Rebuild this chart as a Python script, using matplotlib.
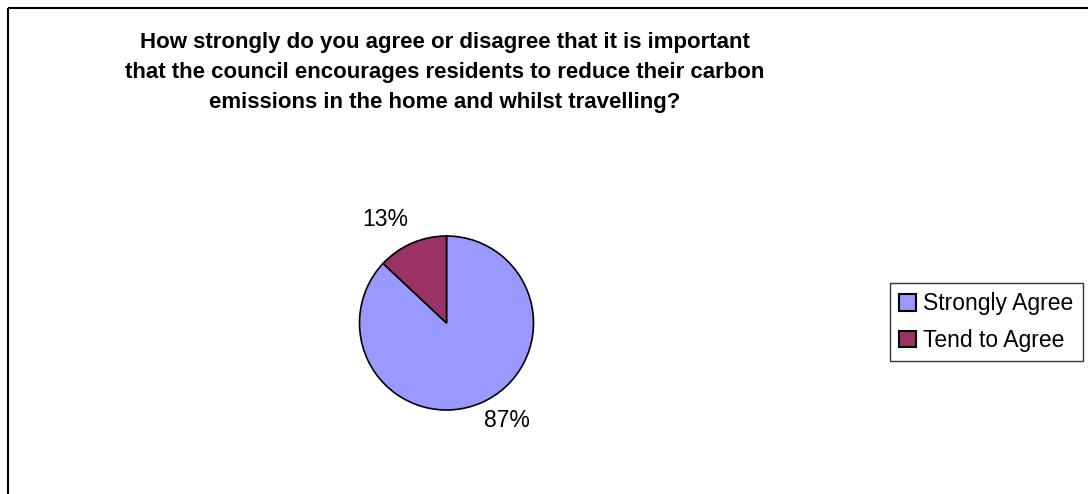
import matplotlib
matplotlib.use("Agg")
import matplotlib.pyplot as plt
from matplotlib.patches import Patch
from matplotlib.lines import Line2D

title = ("How strongly do you agree or disagree that it is important\n"
         "that the council encourages residents to reduce their carbon\n"
         "emissions in the home and whilst travelling?")
categories = ["Strongly Agree", "Tend to Agree"]
values = [87, 13]
colors = ["#9999FF", "#993366"]

plt.rcParams['font.family'] = ['Liberation Sans', 'DejaVu Sans']

W, H = 1088, 494
fig = plt.figure(figsize=(W / 100, H / 100), dpi=100)
fig.patch.set_facecolor("white")

# chart border (left and top visible)
fig.add_artist(Line2D([7.5 / W, 7.5 / W], [0, 1 - 8 / H], transform=fig.transFigure,
                      color="black", lw=1.5, solid_capstyle="butt"))
fig.add_artist(Line2D([7.5 / W, 1], [1 - 8 / H, 1 - 8 / H], transform=fig.transFigure,
                      color="black", lw=1.5, solid_capstyle="butt"))

fig.text(445 / W, 1 - 32 / H, title, ha="center", va="top", fontsize=16,
         fontweight="bold", linespacing=1.55)

cx, cy, r = 446.5, 323, 87
ax = fig.add_axes([(cx - r) / W, 1 - (cy + r) / H, 2 * r / W, 2 * r / H])
wedges, texts = ax.pie(values, colors=colors, startangle=90, counterclock=False,
                       wedgeprops=dict(edgecolor="black", linewidth=1.2))
ax.set_xlim(-1, 1)
ax.set_ylim(-1, 1)
ax.set_aspect("auto")
ax.axis("off")

# percentage labels
label_pos = [(507, 420), (385, 219)]
for (lx, ly), v in zip(label_pos, values):
    fig.text(lx / W, 1 - ly / H, f"{v}%", ha="center", va="center", fontsize=16.5)

handles = [Patch(facecolor=c, edgecolor="black", lw=1.5) for c in colors]
leg = fig.legend(handles, categories, loc="upper left",
                 bbox_to_anchor=(890 / W, 1 - 283 / H), fontsize=16.5,
                 frameon=True, fancybox=False, edgecolor="black",
                 handlelength=0.75, handleheight=0.75, handletextpad=0.3,
                 borderpad=0.4, labelspacing=0.6, borderaxespad=0)
leg.get_frame().set_linewidth(1.0)

fig.savefig("out.png", dpi=100, facecolor="white")
